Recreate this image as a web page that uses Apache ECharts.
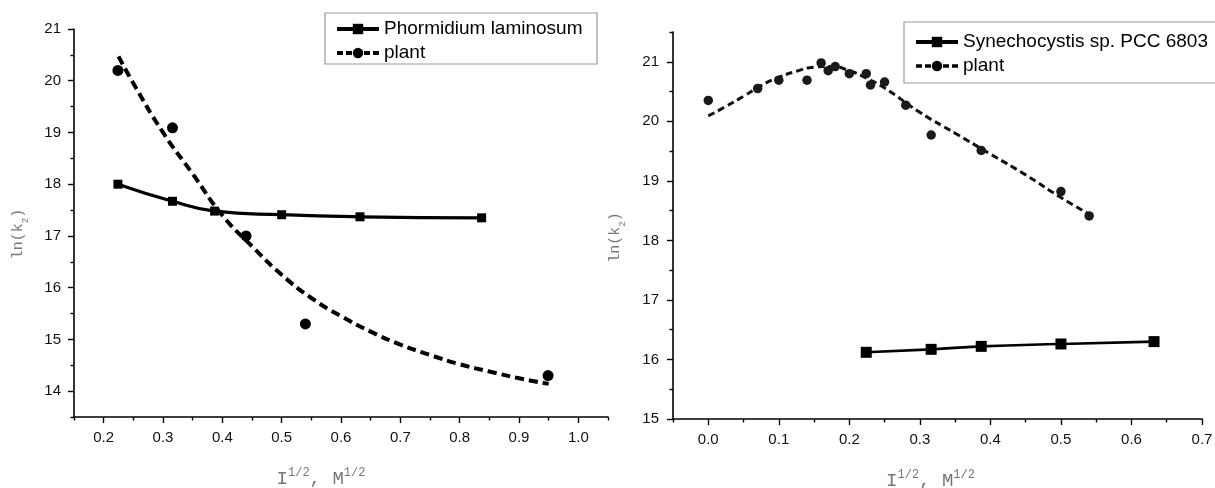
<!DOCTYPE html>
<html>
<head>
<meta charset="utf-8">
<script src="https://cdn.jsdelivr.net/npm/echarts@6/dist/echarts.min.js"></script>
<style>
html,body{margin:0;padding:0;background:#fff;}
#c{width:1215px;height:488px;}
</style>
</head>
<body>
<div id="c"></div>
<script>
// ---------- data ----------
// left panel
const phormX = [0.224, 0.316, 0.387, 0.5, 0.632, 0.837];
const phormY = [18.0, 17.67, 17.48, 17.41, 17.37, 17.35];
const plantLX = [0.224, 0.316, 0.44, 0.54, 0.949];
const plantLY = [20.2, 19.09, 17.0, 15.3, 14.3];
const plantLFitX = [0.225, 0.25, 0.3, 0.35, 0.4, 0.45, 0.5, 0.55, 0.6, 0.65, 0.7, 0.75, 0.8, 0.85, 0.9, 0.95];
const plantLFitY = [20.47, 19.95, 19.0, 18.2, 17.4, 16.8, 16.25, 15.8, 15.45, 15.15, 14.9, 14.7, 14.52, 14.38, 14.25, 14.14];
// right panel
const synX = [0.224, 0.316, 0.387, 0.5, 0.632];
const synY = [16.12, 16.17, 16.22, 16.26, 16.3];
const plantRX = [0, 0.07, 0.1, 0.14, 0.16, 0.17, 0.18, 0.2, 0.224, 0.23, 0.25, 0.28, 0.316, 0.387, 0.5, 0.54];
const plantRY = [20.35, 20.55, 20.69, 20.69, 20.98, 20.85, 20.92, 20.8, 20.8, 20.61, 20.66, 20.27, 19.77, 19.51, 18.82, 18.41];
const plantRFitX = [0, 0.025, 0.05, 0.075, 0.1, 0.125, 0.15, 0.175, 0.2, 0.225, 0.25, 0.3, 0.35, 0.4, 0.45, 0.5, 0.54];
const plantRFitY = [20.09, 20.25, 20.42, 20.6, 20.74, 20.84, 20.91, 20.92, 20.85, 20.72, 20.56, 20.15, 19.8, 19.45, 19.1, 18.72, 18.44];
// names
const nameLeft = 'Phormidium laminosum';
const nameRight = 'Synechocystis sp. PCC 6803';
const namePlant = 'plant';
// ticks
const lxMajor = [0.2, 0.3, 0.4, 0.5, 0.6, 0.7, 0.8, 0.9, 1.0];
const lxMinor = [0.15, 0.25, 0.35, 0.45, 0.55, 0.65, 0.75, 0.85, 0.95, 1.05];
const lyMajor = [14, 15, 16, 17, 18, 19, 20, 21];
const lyMinor = [13.5, 14.5, 15.5, 16.5, 17.5, 18.5, 19.5, 20.5];
const rxMajor = [0.0, 0.1, 0.2, 0.3, 0.4, 0.5, 0.6, 0.7];
const rxMinor = [-0.05, 0.05, 0.15, 0.25, 0.35, 0.45, 0.55, 0.65];
const ryMajor = [15, 16, 17, 18, 19, 20, 21];
const ryMinor = [15.5, 16.5, 17.5, 18.5, 19.5, 20.5, 21.5];

const zip = (a, b) => a.map((v, i) => [v, b[i]]);

const labelFont = 'Liberation Sans, Arial, sans-serif';
const monoFont = 'Liberation Mono, Courier New, monospace';

function titleStyle(kind, pad) {
  const big = kind === 'x' ? 19 : 15;
  const small = kind === 'x' ? 12 : 9;
  return {color: '#777', fontFamily: monoFont, fontSize: big, padding: pad,
    rich: {
      a: {color: '#777', fontFamily: monoFont, fontSize: big, lineHeight: 24},
      sub: {color: '#777', fontFamily: monoFont, fontSize: small, verticalAlign: 'bottom', lineHeight: 24},
      sup: {color: '#777', fontFamily: monoFont, fontSize: small, verticalAlign: 'top', lineHeight: 24}
    }};
}

function majorAxis(kind, grid, min, max, ticks, dec, name, nameGap, namePad, margin) {
  return {
    type: 'value', gridIndex: grid, min: min, max: max,
    position: kind === 'x' ? 'bottom' : 'left',
    splitLine: {show: false},
    axisLine: {show: true, onZero: false, lineStyle: {color: '#000', width: 1.6}},
    axisTick: {show: true, inside: false, length: 6, customValues: ticks, lineStyle: {color: '#000', width: 1.4}},
    axisLabel: {show: true, customValues: ticks, margin: margin, color: '#111', fontSize: 15, fontFamily: labelFont,
      formatter: v => Number(v).toFixed(dec)},
    name: name, nameLocation: 'middle', nameGap: nameGap,
    nameTextStyle: titleStyle(kind, namePad)
  };
}
function minorAxis(kind, grid, min, max, ticks) {
  return {
    type: 'value', gridIndex: grid, min: min, max: max,
    position: kind === 'x' ? 'bottom' : 'left',
    splitLine: {show: false},
    axisLine: {show: false, onZero: false},
    axisTick: {show: true, inside: false, length: 3.5, customValues: ticks, lineStyle: {color: '#000', width: 1.4}},
    axisLabel: {show: false}
  };
}

const xTitle = '{a|I}{sup|1/2}{a|, M}{sup|1/2}';
const yTitle = '{a|ln(k}{sub|2}{a|)}';

function legendItem(name, width, dash) {
  return {name: name, lineStyle: {width: width, type: dash, color: '#000'}, itemStyle: {color: '#000'}};
}

const option = {
  backgroundColor: '#fff',
  animation: false,
  grid: [
    {left: 74, top: 29, width: 534, height: 388, containLabel: false, outerBoundsMode: 'none'},
    {left: 673, top: 32, width: 529, height: 387, containLabel: false, outerBoundsMode: 'none'}
  ],
  xAxis: [
    majorAxis('x', 0, 0.15, 1.05, lxMajor, 1, xTitle, 50, [0, 40, 0, 0], 13),
    minorAxis('x', 0, 0.15, 1.05, lxMinor),
    majorAxis('x', 1, -0.05, 0.7, rxMajor, 1, xTitle, 50, [0, 14, 0, 0], 13),
    minorAxis('x', 1, -0.05, 0.7, rxMinor)
  ],
  yAxis: [
    majorAxis('y', 0, 13.5, 21, lyMajor, 0, yTitle, 44, [0, 22, 0, 0], 13),
    minorAxis('y', 0, 13.5, 21, lyMinor),
    majorAxis('y', 1, 15, 21.5, ryMajor, 0, yTitle, 46, [0, 24, 0, 0], 14),
    minorAxis('y', 1, 15, 21.5, ryMinor)
  ],
  legend: [
    {
      left: 325, top: 13, orient: 'vertical',
      data: [legendItem(nameLeft, 4, 'solid'), legendItem(namePlant, 4, [6, 3])],
      itemWidth: 42, itemHeight: 13, itemGap: 4,
      padding: [6, 10, 1, 10],
      borderColor: '#999', borderWidth: 1.2, borderRadius: 0,
      selectedMode: false,
      textStyle: {color: '#000', fontSize: 19, fontFamily: labelFont, width: 203, lineHeight: 20}
    },
    {
      left: 904, top: 22, orient: 'vertical',
      data: [legendItem(nameRight, 4, 'solid'), legendItem(namePlant + ' ', 3.5, [6, 3])],
      formatter: n => n.trim(),
      itemWidth: 42, itemHeight: 13, itemGap: 4,
      padding: [10, 10, 7, 10],
      borderColor: '#999', borderWidth: 1.2, borderRadius: 0,
      selectedMode: false,
      textStyle: {color: '#000', fontSize: 19, fontFamily: labelFont, width: 300, lineHeight: 20}
    }
  ],
  series: [
    {
      name: nameLeft, type: 'line', xAxisIndex: 0, yAxisIndex: 0,
      data: zip(phormX, phormY), smooth: 0.5,
      symbol: 'rect', symbolSize: 9, showSymbol: true,
      lineStyle: {color: '#000', width: 3.2},
      itemStyle: {color: '#000'}, z: 3
    },
    {
      name: namePlant, type: 'line', xAxisIndex: 0, yAxisIndex: 0,
      data: zip(plantLFitX, plantLFitY), smooth: true,
      symbol: 'circle', symbolSize: 10, showSymbol: false,
      lineStyle: {color: '#000', width: 4, type: [9, 5]},
      itemStyle: {color: '#000'}, z: 2
    },
    {
      name: namePlant, type: 'scatter', xAxisIndex: 0, yAxisIndex: 0,
      data: zip(plantLX, plantLY),
      symbol: 'circle', symbolSize: 11,
      itemStyle: {color: '#000', opacity: 1}, z: 4
    },
    {
      name: nameRight, type: 'line', xAxisIndex: 2, yAxisIndex: 2,
      data: zip(synX, synY), smooth: true,
      symbol: 'rect', symbolSize: 11, showSymbol: true,
      lineStyle: {color: '#000', width: 2.6},
      itemStyle: {color: '#000'}, z: 3
    },
    {
      name: namePlant + ' ', type: 'line', xAxisIndex: 2, yAxisIndex: 2,
      data: zip(plantRFitX, plantRFitY), smooth: true,
      symbol: 'circle', symbolSize: 9, showSymbol: false,
      lineStyle: {color: '#111', width: 3, type: [7, 4]},
      itemStyle: {color: '#000'}, z: 2
    },
    {
      name: namePlant + ' ', type: 'scatter', xAxisIndex: 2, yAxisIndex: 2,
      data: zip(plantRX, plantRY),
      symbol: 'circle', symbolSize: 9.5,
      itemStyle: {color: '#1a1a1a', opacity: 1}, z: 4
    }
  ]
};

const chart = echarts.init(document.getElementById('c'), null, {renderer: 'canvas'});
chart.setOption(option);
</script>
</body>
</html>
